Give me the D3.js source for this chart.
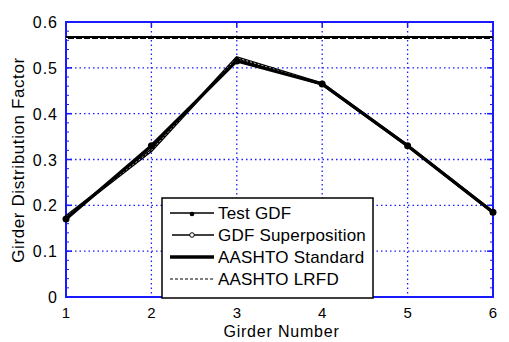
<!DOCTYPE html>
<html>
<head>
<script src="https://d3js.org/d3.v7.min.js"></script>
<style>
  body { margin: 0; background: #fff; }
  text { font-family: "Liberation Sans", Arial, sans-serif; }
</style>
</head>
<body>
<svg width="509" height="342"></svg>
<script>
// data
var girders = [1, 2, 3, 4, 5, 6];
var testGDF = [0.170, 0.330, 0.515, 0.465, 0.330, 0.185];
var superGDF = [0.175, 0.320, 0.522, 0.465, 0.330, 0.185];
var aashtoStandard = 0.566;
var aashtoLRFD = 0.564;
var yTicks = [0, 0.1, 0.2, 0.3, 0.4, 0.5, 0.6];
var legendLabels = ["Test GDF", "GDF Superposition", "AASHTO Standard", "AASHTO LRFD"];

var svg = d3.select("svg");
var pL = 66, pR = 493, pT = 22, pB = 297;

var x = d3.scaleLinear().domain([1, 6]).range([pL, pR]);
var y = d3.scaleLinear().domain([0, 0.6]).range([pB, pT]);

var blue = "#1a1aff";

// grid
var g = svg.append("g");
g.selectAll(".gx").data(girders.slice(1, -1)).join("line")
  .attr("x1", d => x(d)).attr("x2", d => x(d)).attr("y1", pT).attr("y2", pB)
  .attr("stroke", blue).attr("stroke-width", 1.3).attr("stroke-dasharray", "1.5,3");
g.selectAll(".gy").data(yTicks.slice(1, -1)).join("line")
  .attr("y1", d => y(d)).attr("y2", d => y(d)).attr("x1", pL).attr("x2", pR)
  .attr("stroke", blue).attr("stroke-width", 1.3).attr("stroke-dasharray", "1.5,3");

// minor ticks on y
var minor = d3.range(0, 0.6001, 0.02);
g.selectAll(".ml").data(minor).join("line")
  .attr("x1", pL).attr("x2", pL + 3).attr("y1", d => y(d)).attr("y2", d => y(d))
  .attr("stroke", blue);
g.selectAll(".mr").data(minor).join("line")
  .attr("x1", pR).attr("x2", pR - 3).attr("y1", d => y(d)).attr("y2", d => y(d))
  .attr("stroke", blue);
// major ticks
g.selectAll(".tl").data(yTicks).join("line")
  .attr("x1", pL).attr("x2", pL + 6).attr("y1", d => y(d)).attr("y2", d => y(d))
  .attr("stroke", blue).attr("stroke-width", 1.5);
g.selectAll(".tr").data(yTicks).join("line")
  .attr("x1", pR).attr("x2", pR - 6).attr("y1", d => y(d)).attr("y2", d => y(d))
  .attr("stroke", blue).attr("stroke-width", 1.5);
g.selectAll(".tt").data(girders).join("line")
  .attr("x1", d => x(d)).attr("x2", d => x(d)).attr("y1", pT).attr("y2", pT + 5)
  .attr("stroke", blue).attr("stroke-width", 1.5);

// axes box
svg.append("rect").attr("x", pL).attr("y", pT).attr("width", pR - pL).attr("height", pB - pT)
  .attr("fill", "none").attr("stroke", blue).attr("stroke-width", 2);

// tick labels
svg.selectAll(".xl").data(girders).join("text")
  .attr("x", d => x(d)).attr("y", pB + 21).attr("text-anchor", "middle")
  .attr("font-size", 15).text(d => d);
svg.selectAll(".yl").data(yTicks).join("text")
  .attr("x", pL - 8).attr("y", d => y(d) + 6).attr("text-anchor", "end")
  .attr("font-size", 16).attr("letter-spacing", 1).text(d => d === 0 ? "0" : d3.format(".1f")(d));

// axis titles
svg.append("text").attr("x", (pL + pR) / 2 + 2).attr("y", pB + 40)
  .attr("text-anchor", "middle").attr("font-size", 16).attr("letter-spacing", 0.8).text("Girder Number");
svg.append("text").attr("transform", "translate(24,160) rotate(-90)")
  .attr("text-anchor", "middle").attr("font-size", 17).attr("letter-spacing", 0.6).text("Girder Distribution Factor");

// horizontal AASHTO lines
svg.append("line").attr("x1", pL).attr("x2", pR)
  .attr("y1", y(aashtoStandard)).attr("y2", y(aashtoStandard))
  .attr("stroke", "#000").attr("stroke-width", 3);
svg.append("line").attr("x1", pL).attr("x2", pR)
  .attr("y1", y(aashtoLRFD)).attr("y2", y(aashtoLRFD))
  .attr("stroke", "#fff").attr("stroke-width", 1).attr("stroke-dasharray", "2,6");

var line = d3.line().x((d, i) => x(girders[i])).y(d => y(d));

// superposition
svg.append("path").datum(superGDF).attr("d", line)
  .attr("fill", "none").attr("stroke", "#000").attr("stroke-width", 3.2);
svg.append("path").datum(superGDF).attr("d", line)
  .attr("fill", "none").attr("stroke", "#bbb").attr("stroke-width", 1).attr("stroke-dasharray", "2,2");
// test GDF
svg.append("path").datum(testGDF).attr("d", line)
  .attr("fill", "none").attr("stroke", "#000").attr("stroke-width", 3.2);
svg.selectAll(".mk").data(testGDF).join("circle")
  .attr("cx", (d, i) => x(girders[i])).attr("cy", d => y(d)).attr("r", 3.5).attr("fill", "#000");

// legend
var lx = 162, ly = 198, lw = 211, lh = 100;
var lg = svg.append("g");
lg.append("rect").attr("x", lx).attr("y", ly).attr("width", lw).attr("height", lh)
  .attr("fill", "#fff").attr("stroke", "#000").attr("stroke-width", 1.5);
legendLabels.forEach(function (lab, i) {
  var yy = ly + 15 + i * 22;
  var ln = lg.append("line").attr("x1", lx + 8).attr("x2", lx + 52).attr("y1", yy).attr("y2", yy)
    .attr("stroke", "#000");
  if (i === 0) { ln.attr("stroke-width", 1.5);
    lg.append("circle").attr("cx", lx + 30).attr("cy", yy + 1).attr("r", 2.3).attr("fill", "#000"); }
  if (i === 1) { ln.attr("stroke-width", 1.3).attr("x1", lx + 10);
    lg.append("circle").attr("cx", lx + 30).attr("cy", yy).attr("r", 2.3).attr("fill", "#fff").attr("stroke", "#000"); }
  if (i === 2) ln.attr("stroke-width", 3.5);
  if (i === 3) ln.attr("stroke-width", 1).attr("stroke-dasharray", "3,2");
  lg.append("text").attr("x", lx + 56).attr("y", yy + 6).attr("font-size", 17)
    .attr("letter-spacing", 0.2).text(lab);
});
</script>
</body>
</html>
